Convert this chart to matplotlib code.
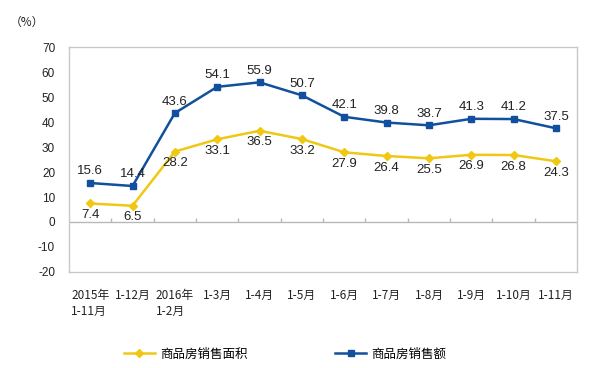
import matplotlib
matplotlib.use("Agg")
from matplotlib import pyplot as plt
import numpy as np

# x categories (two-line labels for the first and third)
categories = ["2015年\n1-11月", "1-12月", "2016年\n1-2月", "1-3月", "1-4月", "1-5月",
              "1-6月", "1-7月", "1-8月", "1-9月", "1-10月", "1-11月"]
area = [7.4, 6.5, 28.2, 33.1, 36.5, 33.2, 27.9, 26.4, 25.5, 26.9, 26.8, 24.3]     # 商品房销售面积
sales = [15.6, 14.4, 43.6, 54.1, 55.9, 50.7, 42.1, 39.8, 38.7, 41.3, 41.2, 37.5]  # 商品房销售额
yticks = list(range(-20, 71, 10))

blue = "#124f9c"
yellow = "#f0c814"
grey = "#b8b8b8"
cjk = ["Noto Sans CJK SC", "DejaVu Sans"]

fig = plt.figure(figsize=(6, 3.68), dpi=100)
ax = fig.add_axes([0.115, 0.261, 0.847, 0.611])

x = np.arange(len(categories))
ax.plot(x, area, color=yellow, lw=1.8, marker="D", ms=4, label="商品房销售面积")
ax.plot(x, sales, color=blue, lw=1.8, marker="s", ms=4.5, label="商品房销售额")

for i in range(len(x)):
    ax.annotate("%.1f" % sales[i], (x[i], sales[i]), xytext=(0, 4), textcoords="offset points",
                ha="center", va="bottom", fontsize=9.5, family="Liberation Sans", color="#222222")
    ax.annotate("%.1f" % area[i], (x[i], area[i]), xytext=(0, -4), textcoords="offset points",
                ha="center", va="top", fontsize=9.5, family="Liberation Sans", color="#222222")

# zero line with category separator ticks
ax.axhline(0, color=grey, lw=1, zorder=1)
ax.vlines(x[:-1] + 0.5, 0, 1.6, color=grey, lw=1, zorder=1)

ax.set_xlim(-0.5, len(categories) - 0.5)
ax.set_ylim(-20, 70)
ax.set_yticks(yticks)
ax.set_yticklabels([str(v) for v in yticks], family="Liberation Sans", fontsize=8.5, color="#222222")
ax.set_xticks(x)
ax.set_xticklabels(categories, family=cjk, fontsize=8.5, color="#222222", linespacing=1.3,
                   va="top", ha="center", multialignment="left")
ax.tick_params(axis="both", length=0)
ax.tick_params(axis="y", pad=10)
ax.tick_params(axis="x", pad=12)
for s in ax.spines.values():
    s.set_color("#c8c8c8")
    s.set_linewidth(1)

fig.text(0.017, 0.94, "（%）", family=cjk, fontsize=8.5, color="#222222", va="center")

fig.legend(loc="center", bbox_to_anchor=(0.475, 0.038), ncol=2, frameon=False,
           prop={"family": cjk, "size": 9}, handlelength=2.5, columnspacing=7, handletextpad=0.4)

fig.savefig("out.png", dpi=100)
